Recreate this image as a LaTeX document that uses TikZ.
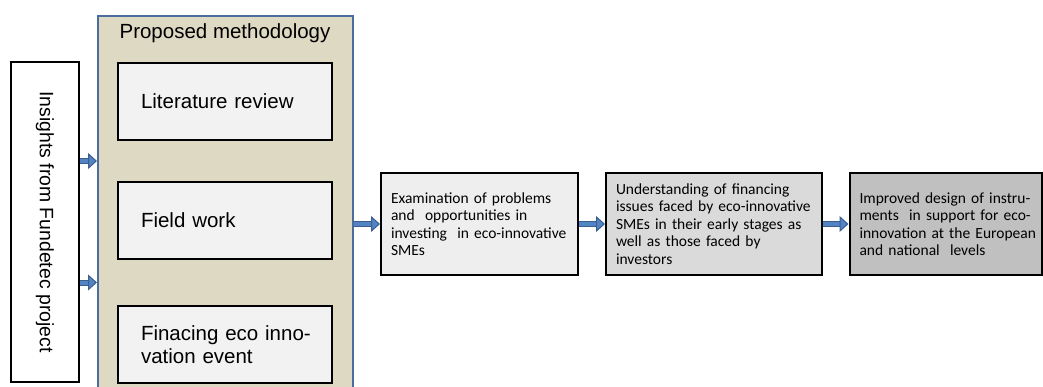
\documentclass[tikz,border=0pt]{standalone}
\usepackage{fontspec}
\setmainfont{Liberation Sans}
\newfontfamily\calibri{Carlito}
\usetikzlibrary{arrows.meta,calc}
\definecolor{methfill}{HTML}{DDD9C3}
\definecolor{methline}{HTML}{4A6C9E}
\definecolor{flowdark}{HTML}{3A5F8F}
\definecolor{flowblue}{HTML}{5283C2}
\definecolor{stepA}{HTML}{EEEEEE}
\definecolor{stepB}{HTML}{DADADA}
\definecolor{stepC}{HTML}{C0C0C0}
\begin{document}
\begin{tikzpicture}[x=1pt,y=-1pt,
    box/.style={draw=black,line width=2pt,rectangle,inner ysep=0pt},
    inbox/.style={box,fill=black!5,minimum width=214pt,minimum height=77pt,inner xsep=23pt,text width=168pt,align=left,font=\fontsize{20.5}{23.5}\selectfont},
    stepbox/.style={box,minimum height=102pt,inner xsep=10pt,align=left,font=\calibri\fontsize{15.5}{17.4}\selectfont},
    flow/.style={draw=flowdark,line width=1pt,double=flowblue,double distance=4pt,-{Triangle[length=9pt,width=16pt,fill=flowblue]}}]
    \useasboundingbox (0,0) rectangle (1043,387);
    \clip (0,0) rectangle (1043,387);
        \node[box,fill=white,minimum width=68pt,minimum height=320pt] (ins) at (45,222) {};
        \node[rotate=-90,font=\fontsize{19.4}{22}\selectfont] at (ins.center) {Insights from Fundetec project};
        \node[draw=methline,line width=2pt,fill=methfill,minimum width=255pt,minimum height=379pt] (meth) at (225.5,205.5) {};
        \node[font=\fontsize{20.5}{23.5}\selectfont] (methtitle) at (225,33) {Proposed methodology};
        \node[inbox] (lit) at (225,101.5) {Literature review};
        \node[inbox] (field) at (225,220.5) {Field work};
        \node[inbox] (event) at (225,344.5) {\mbox{Finacing eco inno-}\\vation event};
        \coordinate (c1) at ($(lit.south)!0.5!(field.north)$);
        \coordinate (c2) at ($(field.south)!0.5!(event.north)$);
        \draw[flow] (ins.east |- c1) -- (meth.west |- c1);
        \draw[flow] (ins.east |- c2) -- (meth.west |- c2);
        \node[stepbox,fill=stepA,minimum width=197pt,text width=177pt] (exam) at (479.5,224) {Examination of problems\\and~ opportunities in\\investing~ in eco-innovative\\SMEs};
        \node[stepbox,fill=stepB,minimum width=216pt,text width=196pt] (under) at (714,224) {Understanding of financing\\issues faced by eco-innovative\\SMEs in their early stages as\\well as those faced by\\investors};
        \node[stepbox,fill=stepC,minimum width=192pt,text width=172pt] (design) at (945.5,224) {\mbox{Improved design of instru-}\\\mbox{ments~ in support for eco-}\\\mbox{innovation at the European}\\and national~ levels};
        \draw[flow] (meth.east |- exam.west) -- (exam.west);
        \draw[flow] (exam.east) -- (under.west);
        \draw[flow] (under.east) -- (design.west);
    \end{tikzpicture}
\end{document}
